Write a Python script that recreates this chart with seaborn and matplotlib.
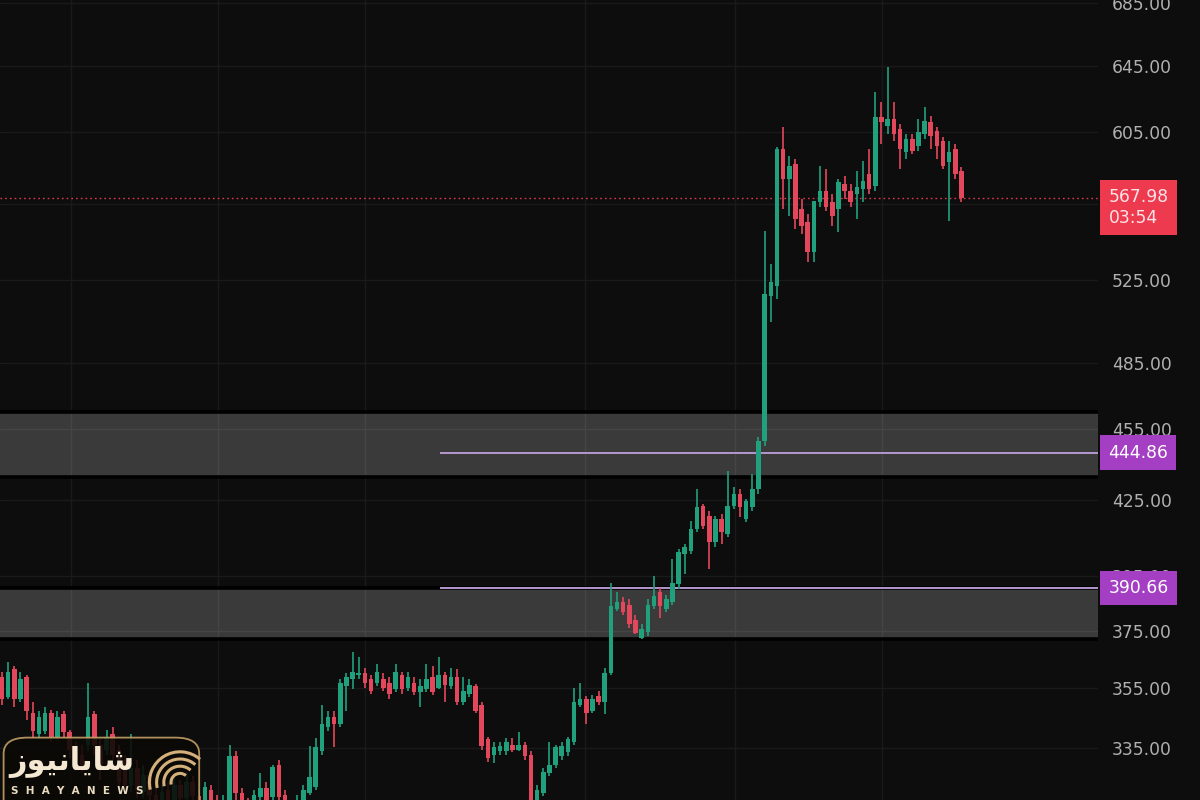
import numpy as np
import pandas as pd
import matplotlib
matplotlib.use("Agg")
import matplotlib.pyplot as plt
import matplotlib.transforms as mtransforms
from matplotlib.patches import FancyBboxPatch, Arc
from matplotlib.ticker import FixedLocator, NullLocator, FuncFormatter
import seaborn as sns

# ---------------- data ----------------
opens = [
    358.5, 351.7, 361.3, 351.0, 358.5, 346.6, 339.4, 340.4, 346.6, 338.7,
    346.0, 340.1, 335.2, 332.9, 336.1, 346.0, 336.1, 334.5, 339.4, 334.5,
    331.3, 323.1, 328.7, 321.3, 326.5, 320.3, 316.4, 321.9, 318.8, 323.4,
    319.4, 324.4, 320.0, 317.3, 321.9, 318.8, 315.2, 318.8, 332.3, 320.9,
    317.3, 315.8, 319.7, 322.5, 319.7, 329.7, 320.3, 317.3, 315.2, 318.8,
    320.9, 322.8, 333.9, 341.7, 345.0, 342.7, 355.4, 357.8, 359.2, 360.2,
    357.8, 356.7, 357.8, 356.7, 354.4, 359.2, 355.0, 356.7, 353.4, 354.4,
    358.5, 355.0, 359.5, 355.4, 358.8, 350.0, 352.7, 355.4, 349.3, 337.8,
    332.9, 333.9, 333.9, 336.1, 334.5, 336.1, 332.9, 317.3, 320.9, 327.2,
    329.7, 332.3, 333.6, 336.8, 349.3, 351.0, 347.0, 352.0, 350.0, 360.2,
    382.7, 385.6, 384.5, 379.0, 372.5, 374.6, 383.8, 389.3, 382.7, 385.6,
    392.0, 403.5, 404.7, 413.3, 422.5, 418.5, 408.2, 417.3, 411.3, 422.5,
    427.4, 417.3, 422.1, 429.5, 449.7, 517.0, 522.0, 595.5, 578.5, 587.0,
    562.1, 555.1, 539.4, 565.8, 571.9, 565.8, 562.1, 575.8, 571.9, 570.3,
    573.0, 581.3, 574.7, 614.1, 608.8, 613.0, 607.1, 593.8, 601.3, 597.2,
    604.2, 611.2, 605.9, 600.1, 588.1, 595.5, 583.0]

highs = [
    360.5, 364.0, 362.3, 360.5, 359.2, 350.0, 347.0, 348.3, 347.6, 347.0,
    347.0, 341.0, 337.1, 336.1, 356.7, 347.0, 337.8, 341.0, 342.0, 336.1,
    332.9, 339.4, 331.3, 329.7, 328.1, 322.5, 323.4, 324.4, 326.5, 325.0,
    327.5, 326.2, 321.9, 324.4, 323.4, 320.3, 320.3, 336.1, 333.9, 322.5,
    319.4, 321.9, 327.2, 324.4, 329.7, 331.3, 321.9, 318.8, 320.3, 323.4,
    335.5, 338.4, 349.3, 347.0, 347.0, 357.8, 360.2, 367.2, 365.5, 361.9,
    359.5, 363.0, 359.9, 358.5, 363.0, 360.5, 360.5, 358.5, 357.8, 363.0,
    362.3, 365.5, 360.5, 361.9, 361.3, 358.5, 357.8, 356.4, 350.3, 338.7,
    336.8, 337.1, 338.4, 338.4, 340.1, 337.1, 333.9, 323.4, 328.7, 337.1,
    336.1, 336.8, 338.7, 355.0, 356.7, 352.0, 352.4, 353.7, 361.9, 392.7,
    389.3, 387.1, 386.4, 380.8, 377.2, 386.4, 395.0, 390.8, 388.2, 401.5,
    405.4, 407.4, 416.5, 429.5, 423.3, 420.5, 418.5, 419.3, 437.0, 430.3,
    429.5, 425.4, 435.7, 451.5, 550.3, 533.2, 596.6, 608.2, 591.5, 589.8,
    567.5, 559.4, 543.5, 585.8, 584.1, 570.3, 578.5, 580.2, 575.8, 583.0,
    588.7, 595.5, 629.1, 623.1, 644.4, 623.1, 610.0, 604.2, 604.2, 613.0,
    620.1, 614.7, 608.2, 602.4, 600.1, 598.4, 585.2]

lows = [
    349.3, 351.0, 348.3, 350.3, 344.3, 338.4, 337.8, 339.4, 337.1, 337.8,
    338.4, 331.9, 328.1, 327.5, 333.9, 332.9, 325.0, 332.9, 331.3, 321.9,
    321.9, 321.3, 319.4, 319.4, 317.3, 314.3, 315.2, 315.8, 317.3, 317.0,
    317.9, 316.4, 314.3, 315.2, 314.3, 312.8, 312.2, 317.3, 318.8, 314.3,
    312.8, 314.3, 317.3, 317.0, 318.8, 318.2, 315.2, 313.4, 314.3, 317.3,
    320.3, 321.9, 332.9, 340.4, 335.2, 341.7, 347.0, 354.4, 357.8, 355.0,
    352.7, 355.7, 353.7, 351.0, 353.4, 353.0, 353.7, 352.4, 348.6, 353.4,
    352.4, 354.4, 350.0, 354.4, 349.0, 349.0, 351.7, 346.3, 334.5, 330.7,
    330.3, 332.9, 332.9, 333.6, 333.9, 331.3, 314.3, 314.3, 320.0, 326.2,
    328.7, 331.3, 332.6, 336.1, 348.3, 342.7, 346.3, 349.0, 346.0, 359.2,
    382.0, 380.8, 376.1, 373.6, 371.8, 373.2, 382.7, 379.7, 381.6, 384.5,
    390.1, 395.8, 403.5, 412.1, 413.3, 397.7, 406.2, 407.4, 410.1, 421.3,
    418.1, 416.1, 420.5, 427.4, 447.6, 504.3, 515.5, 562.1, 558.3, 551.4,
    548.7, 534.2, 534.2, 563.2, 561.0, 553.0, 549.8, 567.5, 563.2, 556.7,
    565.8, 570.3, 571.9, 598.4, 604.2, 600.1, 584.1, 589.8, 592.6, 594.3,
    601.3, 595.5, 589.8, 584.1, 555.6, 578.5, 565.8]

closes = [
    351.0, 360.5, 351.0, 357.8, 347.0, 340.4, 345.0, 346.6, 338.7, 345.3,
    340.1, 334.5, 331.3, 329.7, 345.0, 336.1, 328.1, 338.7, 332.9, 324.4,
    323.4, 328.7, 321.9, 326.5, 320.3, 316.4, 321.3, 318.8, 323.4, 319.4,
    324.4, 320.0, 317.0, 322.8, 318.8, 315.2, 318.8, 332.3, 320.9, 317.3,
    315.2, 320.3, 322.5, 318.8, 329.1, 319.7, 317.3, 315.2, 318.8, 321.9,
    325.9, 335.2, 342.7, 345.0, 342.7, 356.7, 358.5, 360.5, 360.2, 356.7,
    353.7, 360.5, 355.0, 352.7, 360.5, 354.4, 358.5, 353.4, 355.4, 357.8,
    353.4, 359.5, 356.0, 358.8, 350.0, 353.7, 356.0, 347.0, 335.5, 331.9,
    335.2, 335.8, 337.1, 334.5, 336.1, 332.3, 317.3, 321.9, 327.5, 329.7,
    335.2, 335.5, 337.8, 350.0, 351.0, 346.6, 351.0, 350.0, 360.2, 383.8,
    385.6, 381.6, 377.2, 374.3, 375.4, 384.5, 387.5, 383.8, 386.4, 392.7,
    404.3, 406.2, 413.3, 422.1, 414.5, 408.2, 417.3, 412.1, 422.5, 427.4,
    422.1, 424.6, 429.5, 449.7, 518.0, 524.0, 595.5, 578.5, 585.8, 556.7,
    553.0, 539.4, 566.4, 571.9, 563.2, 558.3, 576.9, 571.9, 565.8, 574.1,
    577.4, 573.0, 614.1, 611.2, 613.0, 604.2, 595.5, 601.3, 594.3, 605.3,
    611.8, 603.0, 597.2, 585.8, 593.8, 581.3, 567.98]

price_ticks = [335, 355, 375, 395, 425, 455, 485, 525, 565, 605, 645, 685]
hidden_tick_labels = [565]          # fully covered by the price tag in the reference
zone_upper = [434.6, 462.4]
zone_lower = [371.8, 390.66]
level_upper = 444.86
level_lower = 390.66
level_start_bar = 71.2
last_price = 567.98
countdown = "03:54"
time_grid_bars = [11.2, 35.1, 59.0, 94.8, 119.2, 143.1]

# ---------------- style ----------------
BG = "#0d0d0d"
UP = "#21a07d"
DOWN = "#e3475b"
sns.set_theme(style="dark", rc={
    "axes.facecolor": BG, "figure.facecolor": BG,
    "axes.edgecolor": BG, "grid.color": "#1b1b1b",
})
plt.rcParams["font.family"] = ["DejaVu Sans"]

df = pd.DataFrame({"open": opens, "high": highs, "low": lows, "close": closes})
df["bar"] = np.arange(len(df))
df["up"] = df["close"] >= df["open"]
df["color"] = np.where(df["up"], UP, DOWN)
df["body_lo"] = df[["open", "close"]].min(axis=1)
df["body_hi"] = df[["open", "close"]].max(axis=1)

fig = plt.figure(figsize=(12, 8), dpi=100)
ax = fig.add_axes([0, 0, 1098 / 1200, 1])
ax.set_yscale("log")
x_left = -0.33
x_right = x_left + 1098 / 6.15
ax.set_xlim(x_left, x_right)
ax.set_ylim(318.7, 687.0)

# grid
for gx in time_grid_bars:
    ax.axvline(gx, color="#1a1a1a", lw=1.0, zorder=0.3)
for t in price_ticks:
    ax.axhline(t, color="#1a1a1a", lw=1.0, zorder=0.3)

# zones
for lo, hi in (zone_upper, zone_lower):
    ax.axhspan(lo, hi, facecolor="white", alpha=0.19, lw=0, zorder=0.6)
    ax.axhline(hi, color="#000000", lw=2.6, zorder=0.7)
    ax.axhline(lo, color="#000000", lw=2.6, zorder=0.7)

# level lines
for lv in (level_upper, level_lower):
    ax.hlines(lv, level_start_bar, x_right, color="#b497cf", lw=1.4, zorder=1.0)

# last price dotted line
ax.axhline(last_price, color="#d9394c", lw=1.0, ls=(0, (1.2, 2.2)), zorder=1.1)

# candles
ax.vlines(df["bar"], df["low"], df["high"], colors=df["color"], lw=1.2, zorder=2)
ax.bar(df["bar"], df["body_hi"] - df["body_lo"], bottom=df["body_lo"],
       width=0.74, color=df["color"], linewidth=0, zorder=3)

# axis / ticks
ax.yaxis.tick_right()
ax.yaxis.set_major_locator(FixedLocator(price_ticks))
ax.yaxis.set_minor_locator(NullLocator())
ax.yaxis.set_major_formatter(FuncFormatter(
    lambda v, p: "" if round(v) in hidden_tick_labels else f"{v:.2f}"))
ax.tick_params(axis="y", which="both", length=0, pad=10, labelsize=12.3,
               labelcolor="#b0b0b0")
ax.tick_params(axis="x", which="both", length=0, labelbottom=False)
ax.grid(False)
for s in ax.spines.values():
    s.set_visible(False)

# price tags on the right
trans = mtransforms.blended_transform_factory(ax.transAxes, ax.transData)
ax.annotate(f"{last_price:.2f}\n{countdown}", xy=(1.0, last_price), xycoords=trans,
            xytext=(7.5, 7.5), textcoords="offset points", ha="left", va="top",
            fontsize=12.3, color="#ffe3e6", linespacing=1.22, zorder=10,
            annotation_clip=False,
            bbox=dict(boxstyle="square,pad=0.48", fc="#ee3a4e", ec="none"))
for lv in (level_upper, level_lower):
    ax.annotate(f"{lv:.2f}", xy=(1.0, lv), xycoords=trans,
                xytext=(7.5, 0), textcoords="offset points", ha="left", va="center",
                fontsize=12.3, color="#ffffff", zorder=10, annotation_clip=False,
                bbox=dict(boxstyle="square,pad=0.48", fc="#a43fc4", ec="none"))

# watermark logo (bottom-left)
logo = FancyBboxPatch((0.003, -0.03), 0.163, 0.108, boxstyle="round,pad=0,rounding_size=0.02",
                      transform=fig.transFigure, facecolor="#0b0906", alpha=0.88,
                      edgecolor="#c9a36a", lw=1.3, zorder=20)
fig.patches.append(logo)
fig.text(0.06, 0.047, "\uFEAF\uFEEE\uFBFF\uFEE7\uFE8E\uFBFE\uFE8E\uFEB7",
         ha="center", va="center", fontsize=22, fontweight="bold",
         color="#f4e8d2", zorder=21, family=["DejaVu Sans"])
fig.text(0.064, 0.011, "S  H  A  Y  A  N  E  W  S", ha="center", va="center",
         fontsize=7.5, fontweight="bold", color="#eadcc2", zorder=21)
for r in (0.010, 0.018, 0.026, 0.034):
    fig.patches.append(Arc((0.15, 0.022), r * 1.5, r * 2.25, theta1=60, theta2=200,
                           transform=fig.transFigure, color="#d4b07a", lw=2.2, zorder=21))

fig.savefig("out.png", dpi=100, facecolor=BG)
